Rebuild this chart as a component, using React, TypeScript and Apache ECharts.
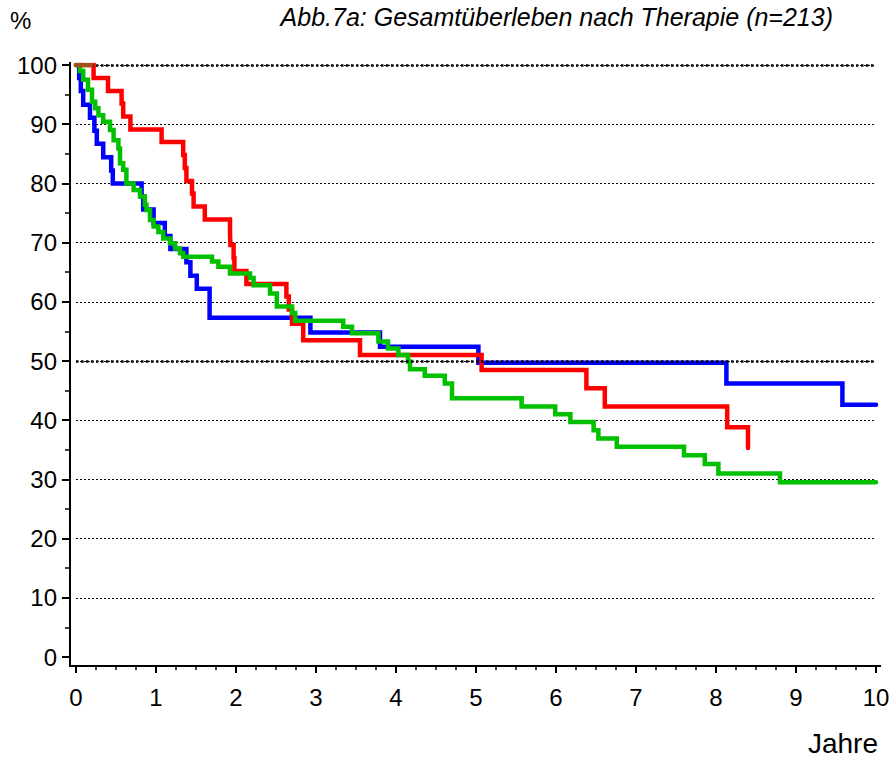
import React, { useEffect, useRef } from "react";
import * as echarts from "echarts";

const TITLE = "Abb.7a: Gesamtüberleben nach Therapie (n=213)";
const Y_NAME = "%";
const X_NAME = "Jahre";

// Kaplan-Meier curves: time (years) and survival (%) after each step
const blueT = [0, 0.04, 0.06, 0.09, 0.175, 0.23, 0.26, 0.34, 0.44, 0.46, 0.82, 0.84, 0.97, 1.11, 1.18, 1.38, 1.43, 1.51, 1.67, 2.93, 3.8, 5.03, 8.13, 9.58, 10.0];
const blueS = [100, 97.8, 95.6, 93.3, 91.1, 88.9, 86.7, 84.4, 82.2, 80.0, 77.8, 75.6, 73.3, 71.1, 68.9, 66.7, 64.4, 62.2, 57.3, 54.8, 52.4, 49.7, 46.2, 42.6, 42.6];

const redT = [0, 0.22, 0.4, 0.57, 0.59, 0.68, 1.07, 1.34, 1.36, 1.38, 1.45, 1.47, 1.61, 1.925, 1.93, 1.97, 1.98, 2.13, 2.63, 2.66, 2.7, 2.84, 3.55, 5.07, 6.38, 6.61, 8.14, 8.4];
const redS = [100, 97.8, 95.6, 93.5, 91.3, 89.1, 87.0, 84.8, 82.6, 80.4, 78.3, 76.1, 73.9, 71.7, 69.6, 67.4, 65.2, 63.0, 60.9, 58.7, 56.3, 53.5, 51.0, 48.5, 45.4, 42.3, 38.8, 35.3];

const greenT = [0, 0.05, 0.09, 0.15, 0.2, 0.24, 0.28, 0.34, 0.425, 0.47, 0.53, 0.55, 0.59, 0.63, 0.72, 0.8, 0.86, 0.88, 0.925, 0.97, 1.03, 1.09, 1.175, 1.24, 1.3, 1.34, 1.7, 1.78, 1.925, 2.175, 2.22, 2.425, 2.51, 2.7, 2.74, 3.34, 3.45, 3.78, 3.9, 4.03, 4.15, 4.175, 4.36, 4.61, 4.7, 5.57, 5.99, 6.18, 6.47, 6.53, 6.76, 7.6, 7.86, 8.03, 8.8, 10.0];
const greenS = [100, 99.0, 97.5, 95.8, 93.8, 92.7, 91.5, 90.4, 89.0, 87.3, 85.9, 83.4, 82.3, 80.0, 78.9, 77.8, 76.4, 75.5, 73.8, 72.7, 71.8, 70.7, 69.9, 69.0, 68.2, 67.6, 66.8, 65.9, 64.8, 64.0, 62.8, 61.4, 59.2, 58.1, 56.8, 55.8, 54.7, 53.3, 52.1, 51.0, 49.9, 48.6, 47.5, 46.2, 43.7, 42.3, 41.0, 39.7, 38.3, 36.9, 35.5, 34.1, 32.6, 31.0, 29.5, 29.5];

const brownT = [0, 0.19];
const brownS = [100, 100];

const boldGridValues = [50, 100];

const zip = (t: number[], s: number[]) => t.map((x, i) => [x, s[i]]);

const FONT = 'Arial, "Liberation Sans", sans-serif';

function kmSeries(name: string, t: number[], s: number[], color: string, z: number) {
  return {
    name,
    type: "line",
    step: "end",
    data: zip(t, s),
    showSymbol: false,
    symbol: "none",
    silent: true,
    z,
    lineStyle: { color, width: 4.5, cap: "round", join: "miter" },
    itemStyle: { color },
  };
}

export default function App() {
  const ref = useRef<HTMLDivElement>(null);
  useEffect(() => {
    const chart = echarts.init(ref.current!, null, { renderer: "svg" });
    const axisCol = "#000";
    chart.setOption({
      animation: false,
      backgroundColor: "#fff",
      textStyle: { fontFamily: FONT, color: "#000" },
      title: {
        text: TITLE,
        right: 60,
        top: 4,
        padding: 0,
        textStyle: { fontFamily: FONT, fontSize: 25, fontStyle: "italic", fontWeight: "normal", color: "#000" },
      },
      grid: { left: 76, right: 17, top: 65, bottom: 105, containLabel: false },
      xAxis: {
        type: "value",
        min: 0,
        max: 10,
        interval: 1,
        offset: 9,
        axisLine: { show: true, onZero: false, lineStyle: { color: axisCol, width: 2 } },
        axisTick: { show: true, length: 7, lineStyle: { color: axisCol, width: 2 } },
        minorTick: { show: true, splitNumber: 4, length: 4, lineStyle: { color: axisCol, width: 1.5 } },
        axisLabel: { fontSize: 24, color: "#000", margin: 19, fontFamily: FONT },
        splitLine: { show: false },
      },
      yAxis: {
        type: "value",
        min: 0,
        max: 100,
        interval: 10,
        offset: 6,
        axisLine: { show: true, onZero: false, lineStyle: { color: axisCol, width: 2 } },
        axisTick: { show: true, length: 8, lineStyle: { color: axisCol, width: 2 } },
        minorTick: { show: true, splitNumber: 2, length: 5, lineStyle: { color: axisCol, width: 1.5 } },
        axisLabel: { fontSize: 24, color: "#000", margin: 13, fontFamily: FONT },
        splitLine: {
          show: true,
          showMinLine: false,
          lineStyle: { color: "#000", width: 1.2, type: [2, 2] },
        },
      },
      graphic: [
        { type: "text", left: 10, top: 8, style: { text: Y_NAME, fontSize: 24, fill: "#000", fontFamily: FONT } },
        { type: "text", right: 15, top: 729, style: { text: X_NAME, fontSize: 28, fill: "#000", fontFamily: FONT } },
        { type: "line", shape: { x1: 70, y1: 62, x2: 70, y2: 667 }, style: { stroke: "#000", lineWidth: 2 } },
        { type: "line", shape: { x1: 69, y1: 666, x2: 881, y2: 666 }, style: { stroke: "#000", lineWidth: 2 } },
      ],
      series: [
        {
          name: "grid50",
          type: "line",
          data: [],
          z: 1,
          silent: true,
          markLine: {
            silent: true,
            symbol: "none",
            label: { show: false },
            lineStyle: { color: "#000", width: 2.5, type: [2.5, 2.5] },
            data: boldGridValues.map((v) => ({ yAxis: v })),
          },
        },
        kmSeries("blue", blueT, blueS, "#0000ff", 2),
        kmSeries("red", redT, redS, "#ff0000", 3),
        kmSeries("green", greenT, greenS, "#00c000", 4),
        kmSeries("brown", brownT, brownS, "#a0521a", 5),
      ],
    });
    return () => chart.dispose();
  }, []);
  return (
    <div
      ref={ref}
      style={{ position: "fixed", left: 0, top: 0, width: 893, height: 762, background: "#fff" }}
    />
  );
}
